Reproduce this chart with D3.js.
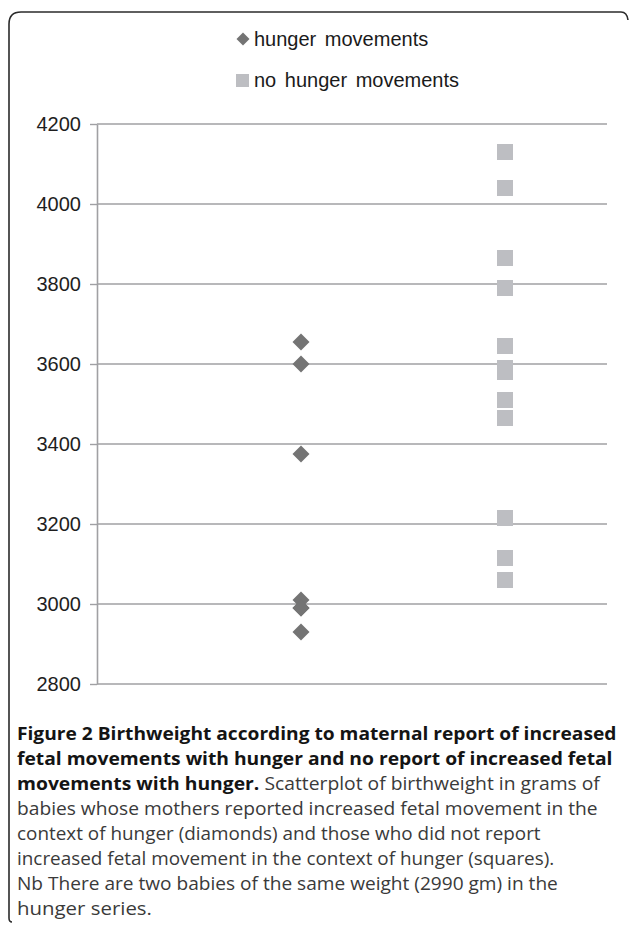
<!DOCTYPE html>
<html>
<head>
<meta charset="utf-8">
<script src="https://cdn.jsdelivr.net/npm/d3@7/dist/d3.min.js"></script>
<style>
  html, body { margin: 0; padding: 0; background: #fff; }
  svg { display: block; }
</style>
</head>
<body>
<svg id="chart" width="629" height="925"></svg>
<script>
// ---- data ----
const seriesNames = ["hunger movements", "no hunger movements"];
const seriesX = [1, 2];
const hungerWeights = [3655, 3600, 3375, 3010, 2990, 2990, 2930];
const noHungerWeights = [4130, 4040, 3865, 3790, 3645, 3590, 3580, 3510, 3465, 3215, 3115, 3060];
const yTicks = [2800, 3000, 3200, 3400, 3600, 3800, 4000, 4200];
const captionLines = [
  [["Figure 2 Birthweight according to maternal report of increased", true]],
  [["fetal movements with hunger and no report of increased fetal", true]],
  [["movements with hunger.", true], [" Scatterplot of birthweight in grams of", false]],
  [["babies whose mothers reported increased fetal movement in the", false]],
  [["context of hunger (diamonds) and those who did not report", false]],
  [["increased fetal movement in the context of hunger (squares).", false]],
  [["Nb There are two babies of the same weight (2990 gm) in the", false]],
  [["hunger series.", false]]
];
const captionWidths = [600, 596, 583, 581, 524, 538, 541, 135];

// ---- layout ----
const svg = d3.select("#chart");
const x = d3.scaleLinear().domain([0, 2.5]).range([97, 607]);
const y = d3.scaleLinear().domain([2800, 4200]).range([684, 124]);

// frame
svg.append("path")
  .attr("d", "M12,922 Q9,922 9,918 L9,24 Q9,12 21,12 L621,12 Q627,12 628,20")
  .attr("fill", "none").attr("stroke", "#2b2b2b").attr("stroke-width", 1.6);

// gridlines
svg.append("g").selectAll("line").data(yTicks).join("line")
  .attr("x1", x(0)).attr("x2", x(2.5))
  .attr("y1", d => y(d)).attr("y2", d => y(d))
  .attr("stroke", "#a0a0a3").attr("stroke-width", 1.4);

// y axis
const yAxis = d3.axisLeft(y).tickValues(yTicks).tickSize(7).tickSizeOuter(0).tickPadding(9).tickFormat(d3.format("d"));
const gy = svg.append("g").attr("transform", `translate(${x(0)},0)`).call(yAxis);
gy.select(".domain").attr("stroke", "#a0a0a3").attr("stroke-width", 1.6);
gy.selectAll(".tick line").attr("stroke", "#a0a0a3").attr("stroke-width", 1.4);
gy.selectAll(".tick text")
  .attr("font-family", "'Liberation Sans', Arial, sans-serif")
  .attr("font-size", 20).attr("fill", "#1e1e1e");

// points
svg.append("g").selectAll("rect").data(noHungerWeights).join("rect")
  .attr("x", d => x(seriesX[1]) - 8).attr("y", d => y(d) - 8)
  .attr("width", 16).attr("height", 16)
  .attr("fill", "#bdbec2");
svg.append("g").selectAll("path").data(hungerWeights).join("path")
  .attr("d", "M0,-8.5L8.5,0L0,8.5L-8.5,0Z")
  .attr("transform", d => `translate(${x(seriesX[0])},${y(d)})`)
  .attr("fill", "#747474");

// legend
const legend = svg.append("g")
  .attr("font-family", "'Liberation Sans', Arial, sans-serif")
  .attr("font-size", 20).attr("fill", "#1a1a1a");
legend.append("path").attr("d", "M0,-6.5L6.5,0L0,6.5L-6.5,0Z")
  .attr("transform", "translate(243,39)").attr("fill", "#747474");
legend.append("text").attr("x", 254).attr("y", 46).attr("word-spacing", 3).text(seriesNames[0]);
legend.append("rect").attr("x", 236).attr("y", 74).attr("width", 13).attr("height", 13).attr("fill", "#bdbec2");
legend.append("text").attr("x", 254).attr("y", 87).attr("word-spacing", 3).text(seriesNames[1]);

// caption: scale each line horizontally to its measured width
const cap = svg.append("g").attr("font-family", "'Open Sans', 'Noto Sans', sans-serif").attr("font-size", 18);
captionLines.forEach((line, i) => {
  const g = cap.append("g");
  const t = g.append("text").attr("x", 0).attr("y", 0);
  line.forEach(([s, bold]) => {
    t.append("tspan").text(s)
      .attr("font-weight", bold ? 700 : 400)
      .attr("fill", bold ? "#141414" : "#3a3a3a");
  });
  const natural = t.node().getComputedTextLength();
  const sx = natural > 0 ? captionWidths[i] / natural : 1;
  g.attr("transform", `translate(17,${740 + 25 * i}) scale(${sx},1)`);
});
</script>
</body>
</html>
